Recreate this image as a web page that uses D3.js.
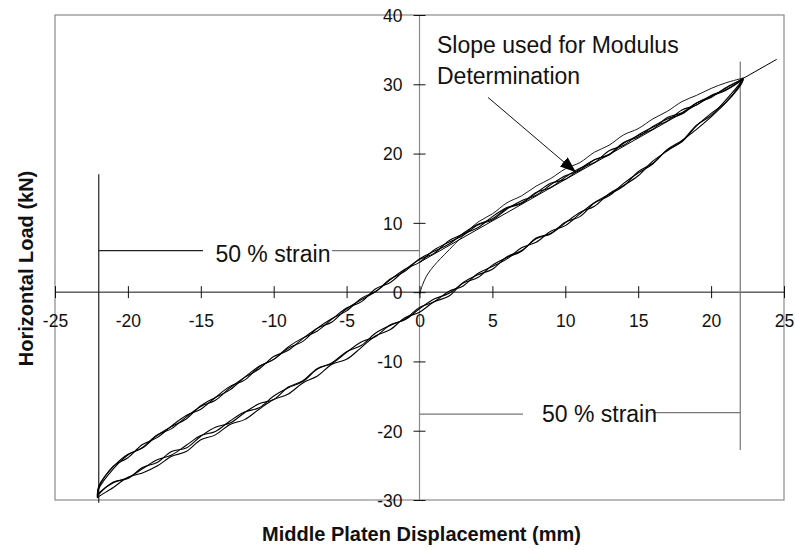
<!DOCTYPE html>
<html>
<head>
<meta charset="utf-8">
<script src="https://cdn.jsdelivr.net/npm/d3@7"></script>
<style>
  html, body { margin: 0; padding: 0; background: #fff; }
  svg { display: block; font-family: "Liberation Sans", Arial, Helvetica, sans-serif; }
</style>
</head>
<body>
<svg id="chart" width="795" height="550"></svg>
<script>
// Displacement grid (mm) shared by every branch; first and last entries are the loop tips
const disp = [-22.1, -22, -21, -20, -19, -18, -17, -16, -15, -14, -13, -12, -11, -10, -9, -8, -7, -6, -5, -4, -3, -2, -1,
  0, 1, 2, 3, 4, 5, 6, 7, 8, 9, 10, 11, 12, 13, 14, 15, 16, 17, 18, 19, 20, 21, 22, 22.2];

// Horizontal load (kN) for three recorded cycles: loading branch (lower) and unloading branch (upper)
const loadingA = [-29.5, -29.2, -27.4, -26.9, -25.3, -24.6, -23.0, -22.5, -20.8, -19.5, -18.9, -17.4, -16.1, -15.5, -13.7, -12.8,
  -11.0, -10.3, -8.7, -7.2, -6.4, -4.7, -4.0, -2.4, -1.0, -0.2, 1.3, 2.1, 3.9, 5.0, 5.9, 7.8, 8.5, 10.1, 10.9, 12.9, 14.1,
  15.3, 17.4, 18.6, 20.5, 21.7, 24.0, 25.8, 27.4, 30.0, 30.8];
const unloadingA = [-29.5, -28.2, -25.1, -23.9, -22.0, -21.0, -19.3, -17.8, -16.9, -15.2, -13.6, -12.7, -10.8, -9.7, -7.9, -6.6,
  -5.6, -3.9, -2.3, -1.4, 0.5, 1.4, 3.2, 4.7, 5.6, 7.4, 8.4, 9.3, 10.9, 12.2, 12.9, 14.4, 15.1, 16.6, 17.9, 18.7, 20.4,
  21.2, 22.7, 23.8, 24.7, 26.3, 27.0, 28.4, 29.2, 30.5, 30.8];

const loadingB = [-29.7, -29.5, -28.2, -26.7, -26.1, -25.1, -23.7, -23.0, -21.3, -20.6, -19.1, -18.4, -16.9, -15.5, -14.7, -13.1,
  -12.1, -10.4, -9.7, -8.0, -6.3, -5.4, -3.7, -2.9, -1.4, -0.6, 1.4, 2.5, 3.3, 5.1, 6.0, 7.7, 8.4, 10.0, 11.5, 12.4, 14.2,
  15.4, 16.8, 18.9, 20.4, 21.8, 24.1, 25.5, 27.7, 30.2, 30.9];
const unloadingB = [-29.7, -28.4, -25.5, -23.5, -22.4, -20.6, -19.7, -18.0, -16.5, -15.6, -13.8, -12.3, -11.1, -9.3, -8.4, -6.7,
  -5.2, -4.3, -2.4, -1.1, 0.1, 1.9, 3.0, 4.8, 5.9, 6.9, 8.5, 9.8, 10.6, 12.1, 12.8, 14.3, 15.7, 16.3, 17.8, 19.1, 19.8,
  21.5, 22.6, 23.5, 25.2, 25.9, 27.3, 28.1, 29.5, 30.6, 30.9];

const loadingC = [-29.3, -29.0, -27.5, -26.8, -25.5, -24.2, -23.5, -22.1, -20.7, -20.1, -18.6, -17.3, -16.7, -15.0, -13.8, -12.9,
  -11.1, -10.2, -8.6, -7.7, -5.9, -4.8, -3.9, -2.2, -1.4, 0.1, 0.9, 2.7, 3.7, 4.8, 6.4, 7.2, 8.8, 9.6, 11.3, 12.9, 13.9,
  15.7, 17.2, 18.5, 20.6, 21.9, 23.5, 25.3, 27.3, 29.8, 30.7];
const unloadingC = [-29.3, -28.0, -25.2, -23.4, -22.5, -20.7, -19.4, -18.3, -16.4, -15.2, -14.1, -12.3, -10.7, -9.7, -8.1, -7.1,
  -5.2, -3.8, -2.7, -0.9, 0.1, 1.8, 3.3, 4.3, 6.1, 7.2, 8.2, 9.7, 10.4, 12.0, 13.2, 14.0, 15.5, 16.8, 17.6, 19.1, 19.9,
  21.6, 22.4, 23.9, 25.0, 25.7, 27.3, 28.3, 29.1, 30.4, 30.7];

// First loading from rest up to the positive tip
const initialDisp = [0, 0.2, 0.45, 0.8, 1.2, 1.7, 2.4, 3.2, 4, 5, 6, 7, 8, 9, 10, 11, 12, 13, 14, 15, 16, 17, 18, 19, 20, 21, 22.2];
const initialLoad = [-0.3, 1.0, 2.2, 3.3, 4.3, 5.4, 6.9, 8.6, 10.1, 11.3, 12.9, 13.9, 15.3, 16.4, 17.8, 18.7, 20.2, 21.2, 22.7,
  23.6, 25.0, 26.1, 27.5, 28.4, 29.4, 30.2, 30.9];

// Straight line used for the modulus
const slopeDisp = [0, 24.5];
const slopeLoad = [4.3, 33.6];

// Axis ticks
const xTickValues = [-25, -20, -15, -10, -5, 0, 5, 10, 15, 20, 25];
const yTickValues = [-30, -20, -10, 0, 10, 20, 30, 40];

const svg = d3.select("#chart");
const plotLeft = 55, plotRight = 784, plotTop = 15, plotBottom = 500;

const x = d3.scaleLinear().domain([-25, 25]).range([plotLeft, plotRight]);
const y = d3.scaleLinear().domain([-30, 40]).range([plotBottom, plotTop]);

// Plot frame
svg.append("rect")
  .attr("x", plotLeft).attr("y", plotTop)
  .attr("width", plotRight - plotLeft).attr("height", plotBottom - plotTop)
  .attr("fill", "none").attr("stroke", "#8a8a8a").attr("stroke-width", 1.2);

// Y axis (through x = 0)
svg.append("line")
  .attr("x1", x(0)).attr("x2", x(0)).attr("y1", plotTop).attr("y2", plotBottom)
  .attr("stroke", "#8a8a8a").attr("stroke-width", 1.2);

const yAxis = svg.append("g")
  .attr("transform", `translate(${x(0)},0)`)
  .call(d3.axisLeft(y).tickValues(yTickValues).tickFormat(d => String(d)).tickSize(6));
yAxis.select(".domain").remove();
yAxis.selectAll(".tick line").attr("x1", 6).attr("x2", -6).attr("stroke", "#111");
yAxis.selectAll(".tick text")
  .attr("x", -17).attr("dy", "0.36em")
  .attr("font-size", 17.5).attr("fill", "#111")
  .attr("font-family", "Liberation Sans, Arial, sans-serif");

// X axis (through y = 0)
svg.append("line")
  .attr("x1", plotLeft).attr("x2", plotRight).attr("y1", y(0)).attr("y2", y(0))
  .attr("stroke", "#111").attr("stroke-width", 1);

const xAxis = svg.append("g")
  .attr("transform", `translate(0,${y(0)})`)
  .call(d3.axisBottom(x).tickValues(xTickValues).tickFormat(d => String(d)).tickSize(6));
xAxis.select(".domain").remove();
xAxis.selectAll(".tick line").attr("y1", -6).attr("y2", 6).attr("stroke", "#111");
xAxis.selectAll(".tick text")
  .attr("y", 35).attr("dy", null)
  .attr("font-size", 17.5).attr("fill", "#111")
  .attr("font-family", "Liberation Sans, Arial, sans-serif");

// 50 % strain markers
const strainLines = [
  { x1: -22, y1: 17, x2: -22, y2: -30.4, c: "#222" },
  { x1: -22, y1: 6, x2: -14.85, y2: 6, c: "#222" },
  { x1: -6.0, y1: 6, x2: 0, y2: 6, c: "#777" },
  { x1: 22, y1: 33.3, x2: 22, y2: -22.8, c: "#777" },
  { x1: 0, y1: -17.6, x2: 7.1, y2: -17.6, c: "#777" },
  { x1: 16.0, y1: -17.4, x2: 22, y2: -17.4, c: "#777" }
];
svg.append("g").selectAll("line").data(strainLines).join("line")
  .attr("x1", d => x(d.x1)).attr("y1", d => y(d.y1))
  .attr("x2", d => x(d.x2)).attr("y2", d => y(d.y2))
  .attr("stroke", d => d.c).attr("stroke-width", 1.2);

// Hysteresis loops
const lineGen = d3.line()
  .x(d => x(d[0])).y(d => y(d[1]))
  .curve(d3.curveCatmullRom.alpha(0.5));

const cycles = [
  [loadingA, unloadingA],
  [loadingB, unloadingB],
  [loadingC, unloadingC]
];
const loops = svg.append("g").attr("fill", "none").attr("stroke", "#000").attr("stroke-width", 1.1);
cycles.forEach(([up, down]) => {
  const pts = disp.map((d, i) => [d, up[i]])
    .concat(disp.map((d, i) => [d, down[i]]).reverse().slice(1));
  loops.append("path").attr("d", lineGen(pts));
});
loops.append("path")
  .attr("stroke-width", 0.9)
  .attr("d", lineGen(initialDisp.map((d, i) => [d, initialLoad[i]])));

// Modulus slope line
svg.append("line")
  .attr("x1", x(slopeDisp[0])).attr("y1", y(slopeLoad[0]))
  .attr("x2", x(slopeDisp[1])).attr("y2", y(slopeLoad[1]))
  .attr("stroke", "#000").attr("stroke-width", 1);

// Arrow pointing at the slope
svg.append("defs").append("marker")
  .attr("id", "arrowHead")
  .attr("markerUnits", "userSpaceOnUse")
  .attr("markerWidth", 17).attr("markerHeight", 12)
  .attr("refX", 16).attr("refY", 6)
  .attr("orient", "auto")
  .append("path").attr("d", "M0,0 L16,6 L0,12 Z").attr("fill", "#000");

svg.append("line")
  .attr("x1", x(4.7)).attr("y1", y(28.1))
  .attr("x2", x(10.73)).attr("y2", y(17.3))
  .attr("stroke", "#111").attr("stroke-width", 1)
  .attr("marker-end", "url(#arrowHead)");

// Annotation text
const note = svg.append("g").attr("font-size", 23).attr("fill", "#111");
note.append("text").attr("x", x(1.2)).attr("y", y(34.5)).text("Slope used for Modulus");
note.append("text").attr("x", x(1.2)).attr("y", y(30.1)).text("Determination");
note.append("text").attr("x", x(-14.0)).attr("y", y(4.4)).text("50 % strain");
note.append("text").attr("x", x(8.4)).attr("y", y(-18.7)).text("50 % strain");

// Axis titles
svg.append("text")
  .attr("x", 421.5).attr("y", 541)
  .attr("text-anchor", "middle")
  .attr("font-size", 20).attr("font-weight", "bold").attr("fill", "#111")
  .text("Middle Platen Displacement (mm)");

svg.append("text")
  .attr("transform", "translate(32.5,268.5) rotate(-90)")
  .attr("text-anchor", "middle")
  .attr("font-size", 20).attr("font-weight", "bold").attr("fill", "#111")
  .text("Horizontal Load (kN)");
</script>
</body>
</html>
